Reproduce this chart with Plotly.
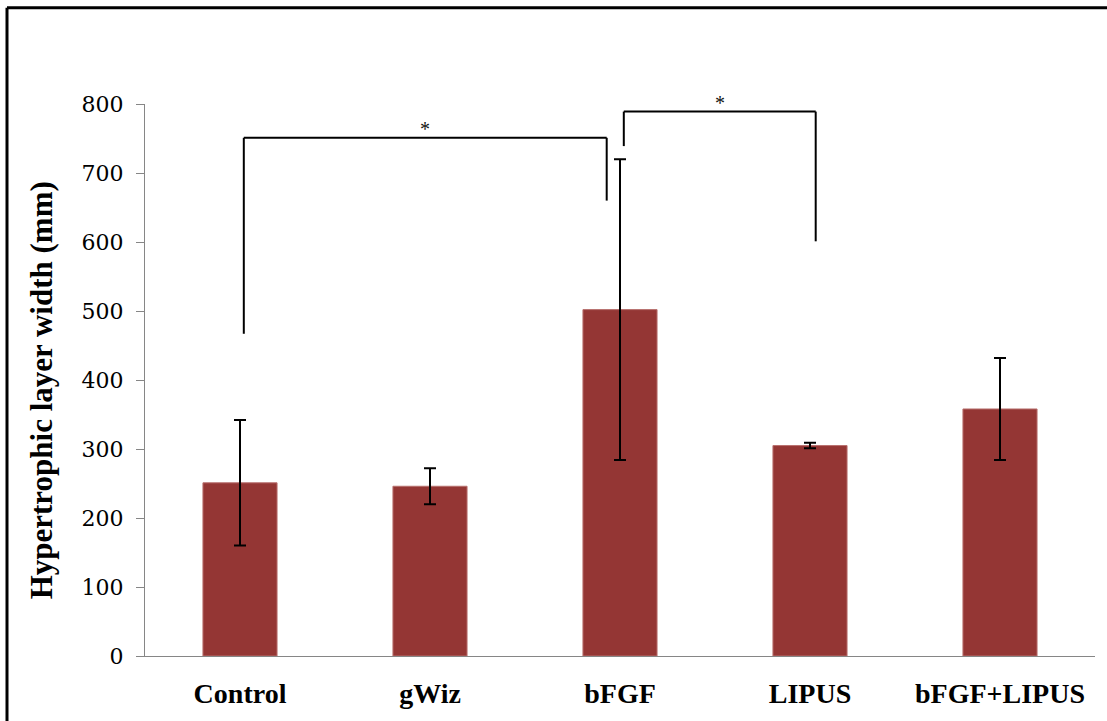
import plotly.graph_objects as go

# Group labels and measurements
groups = ["Control", "gWiz", "bFGF", "LIPUS", "bFGF+LIPUS"]
mean_width = [251, 246, 502, 305, 358]
sem_width = [91, 26, 218, 4, 74]

# Significance brackets: (left group index, right group index, left offset,
# right offset, bracket top, left leg bottom, right leg bottom)
brackets = [
    (0, 2, 0.02, -0.07, 751, 467, 660),
    (2, 3, 0.02, 0.03, 789, 739, 601),
]
bracket_label = "*"

y_ticks = [0, 100, 200, 300, 400, 500, 600, 700, 800]
y_title = "Hypertrophic layer width (mm)"

BAR = "#943634"
AXIS = "#868686"

fig = go.Figure()
fig.add_trace(go.Bar(
    x=list(range(len(groups))),
    y=mean_width,
    width=0.39,
    marker=dict(color=BAR, line=dict(color="#b8706e", width=1)),
    error_y=dict(type="data", array=sem_width, visible=True,
                 color="black", thickness=2, width=6),
    showlegend=False,
    hoverinfo="skip",
))

shapes = []
annotations = []
for a, b, da, db, top, bot_a, bot_b in brackets:
    xa, xb = a + da, b + db
    shapes += [
        dict(type="line", xref="x", yref="y", x0=xa, x1=xa, y0=bot_a, y1=top,
             line=dict(color="black", width=2)),
        dict(type="line", xref="x", yref="y", x0=xa, x1=xb, y0=top, y1=top,
             line=dict(color="black", width=2)),
        dict(type="line", xref="x", yref="y", x0=xb, x1=xb, y0=top, y1=bot_b,
             line=dict(color="black", width=2)),
    ]
    annotations.append(dict(
        x=(xa + xb) / 2, y=top, xref="x", yref="y", text=bracket_label,
        showarrow=False, yanchor="bottom", yshift=-4,
        font=dict(family="Liberation Serif", size=20, color="#111"),
    ))

# Rotated axis title
annotations.append(dict(
    x=-0.108, y=0.482, xref="paper", yref="paper", textangle=-90,
    text=f"<b>{y_title}</b>", showarrow=False,
    xanchor="center", yanchor="middle",
    font=dict(family="Liberation Serif", size=31, color="black"),
))

# Outer frame (top and left edges)
frame_left = -138 / 950
frame_top = 653 / 556
shapes += [
    dict(type="line", xref="paper", yref="paper", x0=frame_left, x1=1.1,
         y0=frame_top, y1=frame_top, line=dict(color="black", width=3)),
    dict(type="line", xref="paper", yref="paper", x0=frame_left, x1=frame_left,
         y0=frame_top, y1=-0.2, line=dict(color="black", width=3)),
]

fig.update_layout(
    width=1107, height=721,
    margin=dict(l=145, r=12, t=104, b=61),
    paper_bgcolor="white", plot_bgcolor="white",
    shapes=shapes, annotations=annotations,
    bargap=0.6,
)
fig.update_xaxes(
    tickmode="array", tickvals=list(range(len(groups))),
    ticktext=[f"<b>{g}</b>" for g in groups],
    range=[-0.5, 4.5], showline=True, linecolor=AXIS, linewidth=1.3,
    ticks="", showgrid=False, zeroline=False,
    tickfont=dict(family="Liberation Serif", size=28, color="black"),
    ticklabelstandoff=12,
)
fig.update_yaxes(
    range=[0, 800], tickvals=y_ticks, showline=True, linecolor=AXIS,
    linewidth=1.3, ticks="outside", ticklen=8, tickcolor=AXIS, tickwidth=1.3,
    showgrid=False, zeroline=False,
    tickfont=dict(family="DejaVu Serif", size=22, color="black"),
    ticklabelstandoff=8,
)

fig.write_html("out.html")
